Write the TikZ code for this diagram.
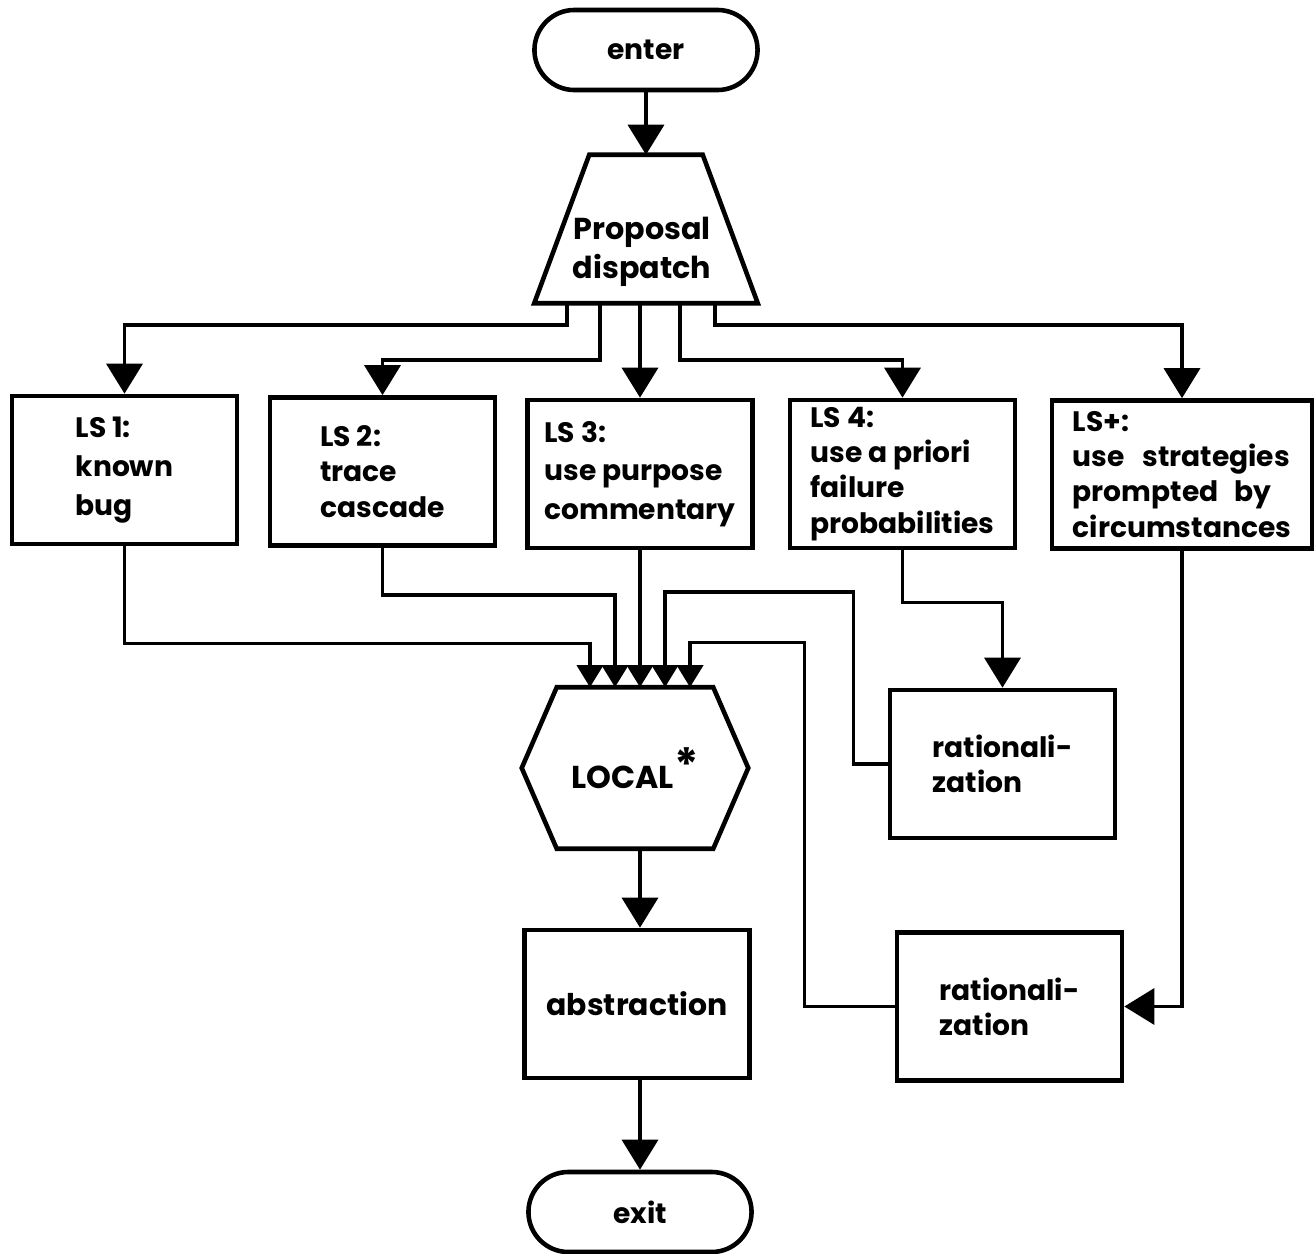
\documentclass[tikz,border=0pt]{standalone}
\usepackage{fontspec}
\setmainfont{Poppins}
\usetikzlibrary{arrows.meta}

\begin{document}
\begin{tikzpicture}
   [x=0.01cm, y=-0.01cm,
   every node/.style={font=\bfseries\fontsize{8}{10}\selectfont},
   box/.style={draw, line width=1.3pt, minimum width=2.25cm, minimum height=1.48cm, align=left, inner sep=0pt},
   loose/.style={font=\bfseries\fontsize{8}{11}\selectfont},
   term/.style={draw, line width=1.3pt, rounded corners=0.4cm, minimum width=2.23cm, minimum height=0.8cm},
   ghost/.style={draw=none, inner sep=0pt, align=center},
   outline/.style={line width=1.3pt, line join=miter},
   link/.style={line width=1pt},
   arr/.style={link, -{Triangle[width=0.36cm, length=0.3cm]}},
   inarr/.style={link, -{Triangle[width=0.26cm, length=0.22cm]}}]
\useasboundingbox (0,0) rectangle (1314,1254);

% terminals and dispatch
\node[term] (enter) at (646,50) {enter};
\node[ghost, minimum width=2.22cm, minimum height=1.47cm] (disp) at (646,229) {};
\draw[outline] ([xshift=0.55cm]disp.north west) -- ([xshift=-0.55cm]disp.north east)
   -- (disp.south east) -- (disp.south west) -- cycle;
\node[ghost, font=\bfseries\fontsize{8.6}{11}\selectfont] (disptext) at (642,252) {Proposal\\dispatch};

% local strategies
\node[box, loose] (ls1) at (124.5,470) {LS 1:\\known\\bug};
\node[box] (ls2) at (382.5,471.5) {LS 2:\\trace\\cascade};
\node[box, loose] (ls3) at (640,474) {LS 3:\\use purpose\\commentary};
\node[box] (ls4) at (902.5,474) {LS 4:\\use a priori\\failure\\probabilities};
\node[box, minimum width=2.6cm] (lsp) at (1182,474.5)
   {LS+:\\\makebox[2.17cm][s]{use strategies}\\\makebox[1.98cm][s]{prompted by}\\circumstances};

% LOCAL* and the rest
\node[ghost, minimum width=2.25cm, minimum height=1.6cm, font=\bfseries\fontsize{9}{11}\selectfont] (loc) at (635,768)
   {LOCAL\raisebox{0.4ex}{\fontsize{13}{13}\selectfont*}};
\draw[outline] ([xshift=0.35cm]loc.north west) -- ([xshift=-0.35cm]loc.north east) -- (loc.east)
   -- ([xshift=-0.35cm]loc.south east) -- ([xshift=0.35cm]loc.south west) -- (loc.west) -- cycle;
\node[box] (rat1) at (1002.5,764) {rationali-\\zation};
\node[box] (rat2) at (1009.5,1006.5) {rationali-\\zation};
\node[box, align=center, font=\bfseries\fontsize{8.5}{10}\selectfont] (abs) at (637,1004) {abstraction};
\node[term] (exit) at (640,1212) {exit};

% connectors
\draw[arr] (enter) -- (disp);
\draw[arr] ([xshift=-0.79cm]disp.south) -- ++(0,22) -| (ls1.north);
\draw[arr] ([xshift=-0.46cm]disp.south) -- ++(0,57) -| (ls2.north);
\draw[arr] (disp.south -| ls3.north) -- (ls3.north);
\draw[arr] ([xshift=0.34cm]disp.south) -- ++(0,57) -| (ls4.north);
\draw[arr] ([xshift=0.69cm]disp.south) -- ++(0,22) -| (lsp.north);

\draw[inarr] (ls1.south) -- ++(0,97) -| ([xshift=-0.45cm]loc.north);
\draw[inarr] (ls2.south) -- ++(0,47) -| ([xshift=-0.2cm]loc.north);
\draw[inarr] (ls3.south) -- (ls3.south |- loc.north);
\draw[inarr] (rat1.west) -- ++(-34,0) -- ++(0,-172) -| ([xshift=0.3cm]loc.north);
\draw[inarr] (rat2.west) -- ++(-90,0) -- ++(0,-364) -| ([xshift=0.55cm]loc.north);

\draw[arr] (ls4.south) -- ++(0,52) -| (rat1.north);
\draw[arr] (lsp.south) |- (rat2.east);
\draw[arr] (loc.south -| ls3.south) -- (abs.north -| ls3.south);
\draw[arr] (abs.south -| exit.north) -- (exit.north);
\end{tikzpicture}
\end{document}
